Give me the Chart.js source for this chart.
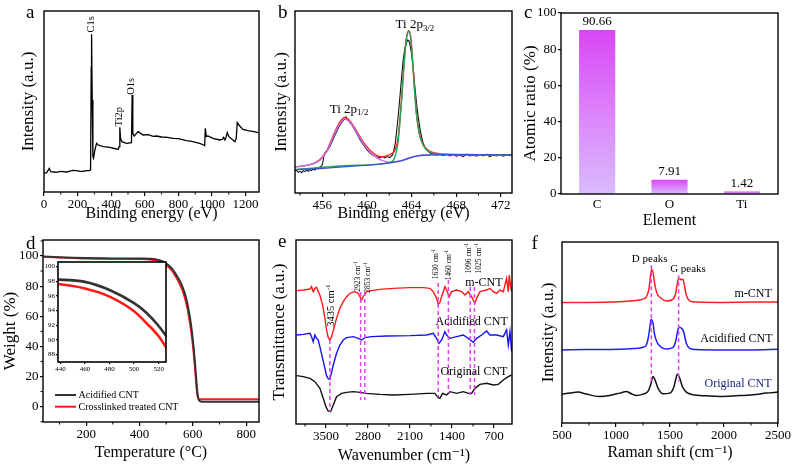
<!DOCTYPE html>
<html>
<head>
<meta charset="utf-8">
<script src="https://cdn.jsdelivr.net/npm/chart.js@4.4.1/dist/chart.umd.min.js"></script>
<style>
html,body{margin:0;padding:0;background:#fff}
body{width:792px;height:465px;position:relative;overflow:hidden}
canvas{position:absolute}
</style>
</head>
<body>
<canvas id="pa" width="268" height="230" style="left:0;top:0"></canvas>
<canvas id="pb" width="252" height="230" style="left:268px;top:0"></canvas>
<canvas id="pc" width="272" height="230" style="left:520px;top:0"></canvas>
<canvas id="pd" width="268" height="235" style="left:0;top:230px"></canvas>
<canvas id="pe" width="252" height="235" style="left:268px;top:230px"></canvas>
<canvas id="pf" width="272" height="235" style="left:520px;top:230px"></canvas>
<canvas id="pi" width="128" height="122" style="left:44px;top:256px"></canvas>
<script>
// ================= DATA =================
// (a) XPS survey spectrum
const aEnergy = [0,15.8,31.7,39.6,60,75.2,95,114.9,134.7,160,170,194,215,233.7,250,269.3,277.2,281.2,283.2,287.1,291.1,295,303,312.9,322.8,352.5,392,431.7,441.6,447.5,451.5,455.4,463.4,491,520.8,524.8,528.7,536.6,550.5,560.4,590,620,650,669.3,700,735,768.3,800,847.5,880,926.7,950.5,956.4,960.4,966.3,976.2,1005.9,1045.5,1061.4,1069.3,1077.2,1085.1,1091.1,1101,1124.8,1136.6,1144.6,1150.5,1160.4,1184.2,1213.9,1250,1275.2];
const aIntensity = [80,82,95,85,84,83,86,85,84,87,89,88,86,86,88,88,90,400,497,300,130,125,150,170,165,160,158,153,152,160,218,185,175,170,172,315,200,192,200,205,195,196,191,192,189,188,185,184,178,176,170,165,163,215,190,192,185,180,182,188,180,190,202,190,180,175,185,232,225,212,208,205,202];
const aPeakNames = ['C1s','Ti2p','O1s'];
const aXTicks = [0,200,400,600,800,1000,1200];

// (b) Ti 2p high-resolution spectrum
const bRawEnergy = [453.55,453.70,453.85,454.00,454.15,454.30,454.45,454.60,454.75,454.90,455.04,455.19,455.34,455.49,455.64,455.79,455.94,456.03,456.15,456.30,456.48,456.69,456.93,457.13,457.34,457.52,457.70,457.88,458.03,458.12,458.24,458.36,458.48,458.63,458.78,458.93,459.13,459.37,459.61,459.82,460.03,460.27,460.51,460.72,460.93,461.16,461.40,461.61,461.82,462.06,462.21,462.30,462.42,462.54,462.66,462.81,462.96,463.10,463.25,463.40,463.55,463.64,463.76,463.85,464.00,464.15,464.30,464.45,464.60,464.75,464.90,465.04,465.16,465.34,465.52,465.70,465.94,466.24,466.54,466.84,467.13,467.43,467.73,468.03,468.33,468.63,468.93,469.22,469.52,469.82,470.12,470.42,470.72,471.01,471.31,471.61,471.91,472.21,472.51,472.81,473.01];
const bRaw = [88,90,84,87,83,89,86,91,87,92,89,94,91,97,95,100,103,110,135,145,150,162,180,195,210,222,232,240,244,250,240,242,232,228,218,210,198,182,170,160,150,142,136,132,130,128,131,127,131,128,133,136,150,170,205,255,310,365,420,455,472,480,478,468,440,395,340,290,250,215,190,172,162,152,146,141,139,135,138,134,138,133,137,132,136,131,138,133,136,132,137,133,138,131,136,133,137,132,136,134,135];
const bEnvEnergy = [453.55,454.30,455.19,455.79,456.39,456.99,457.58,458.03,458.48,459.07,459.67,460.27,460.87,461.31,461.76,462.21,462.51,462.81,463.10,463.31,463.49,463.61,463.76,463.91,464.09,464.27,464.45,464.69,465.04,465.49,466.24,467.13,469.82,473.01];
const bEnvelope = [100,103,110,122,148,195,235,248,238,208,175,150,135,131,133,140,150,190,302,402,472,498,508,493,423,333,258,203,168,150,141,138,137,136];
const bP12Energy = [453.55,454.30,455.19,455.79,456.39,456.99,457.58,458.03,458.48,459.07,459.67,460.27,460.87,461.46,462.06,463.25,464.15,465.04,467.13,469.82,473.01];
const bP12Fit = [100,103,110,120,145,190,230,244,234,204,170,145,128,118,114,121,131,136,137,137,136];
const bP32Energy = [453.55,456.39,459.07,462.06,462.51,462.81,463.10,463.31,463.49,463.61,463.76,463.91,464.09,464.27,464.45,464.69,465.04,465.49,466.24,467.13,469.82,473.01];
const bP32Fit = [92,100,105,113,130,180,295,398,470,496,506,490,420,330,255,200,165,147,139,137,137,136];
const bBgEnergy = [453.55,456.09,459.07,462.06,463.25,464.15,465.04,467.13,469.82,473.01];
const bBackground = [92,96,103,112,120,130,135,137,137,136];
const bXTicks = [456,460,464,468,472];

// (c) atomic ratio
const cElements = ['C','O','Ti'];
const cRatio = [90.66,7.91,1.42];
const cYTicks = [0,20,40,60,80,100];

// (d) TGA
const dTemp = [40,100,150,200,300,400,438,460,480,500,510,520,530,540,550,560,570,580,590,597,603,608,612,616,620,624,630,640,850];
const dAcidified = [99.6,99.1,98.8,98.6,98.4,98.3,98.2,97.9,96.8,95.0,93.7,91.9,89.6,86.8,83.8,80,75,68,58,49,39,29,20,11,6,4,3.4,3.3,3.3];
const dCrosslinked = [99.4,98.9,98.6,98.3,98.1,97.9,97.6,97.0,95.9,93.9,92.3,90.5,87.9,84.8,81.5,77.5,72,64.5,54,45,35,25,16,8.5,5.5,5,4.9,4.9,4.9];
const dSeries = ['Acidified CNT','Crosslinked treated CNT'];
const dXTicks = [200,400,600,800];
const dYTicks = [0,20,40,60,80,100];
const dInsetXTicks = [440,460,480,500,520];
const dInsetYTicks = [88,90,92,94,96,98,100];

// (e) FTIR
const eRedWave = [3991,3880,3768,3741,3713,3685,3657,3629,3602,3557,3518,3491,3463,3435,3407,3368,3324,3268,3213,3157,3102,3018,2963,2935,2907,2879,2824,2740,2601,2379,2101,1879,1768,1712,1657,1629,1601,1584,1546,1518,1490,1446,1407,1323,1240,1184,1129,1073,1018,990,934,823,768,712,656,601,545,490,462,445,423,406];
const eMCNT = [403,405,408,415,400,410,413,400,390,360,320,285,262,255,265,290,320,350,370,385,395,400,395,385,375,385,400,403,407,410,412,412,410,400,380,362,368,380,400,415,405,385,400,405,400,390,400,385,365,380,400,405,410,400,395,405,400,440,400,450,415,400];
const eBlueWave = [3991,3880,3768,3741,3713,3685,3657,3629,3602,3557,3518,3491,3463,3435,3379,3324,3268,3213,3157,3046,2963,2907,2852,2740,2490,2101,1823,1712,1657,1618,1573,1518,1490,1434,1323,1212,1129,1045,990,906,823,768,656,545,490,462,434,406];
const eAcidified = [270,272,275,265,250,270,260,255,235,200,170,148,139,137,180,215,240,255,262,265,260,255,262,265,267,268,270,275,260,245,255,280,270,260,265,270,260,248,260,270,282,270,270,265,285,240,280,220];
const eBlackWave = [3991,3880,3768,3685,3602,3546,3502,3463,3424,3379,3324,3240,3157,3046,2935,2824,2601,2379,2101,1823,1685,1629,1601,1557,1490,1434,1323,1212,1129,1073,1018,934,823,712,629,545,462,406];
const eOriginal = [148,145,140,130,110,80,55,42,40,60,85,95,98,100,98,95,92,90,92,95,95,82,80,95,90,100,95,100,95,95,110,122,125,120,122,135,145,150];
const ePeaks = [3435,2923,2853,1630,1460,1096,1025];
const eSeries = ['m-CNT','Acidified CNT','Original CNT'];
const eXTicks = [3500,2800,2100,1400,700];

// (f) Raman
const fRedShift = [500,725,1034,1157,1250,1281,1306,1318,1330,1343,1358,1380,1420,1466,1528,1552,1565,1577,1590,1605,1620,1633,1651,1682,1744,1960,2269,2500];
const fMCNT = [368,368,370,373,378,385,410,445,467,458,425,395,380,372,378,395,420,438,440,436,438,420,390,373,369,368,369,369];
const fBlueShift = [500,725,1034,1157,1250,1281,1299,1312,1324,1343,1355,1380,1420,1466,1528,1552,1568,1583,1596,1614,1630,1651,1682,1744,1960,2269,2500];
const fAcidified = [225,226,227,229,233,240,262,290,317,305,275,248,233,228,233,250,278,293,292,288,275,245,230,226,225,225,227];
const fBlackShift = [500,571,648,725,849,941,1034,1096,1142,1188,1250,1296,1321,1343,1361,1389,1435,1497,1534,1552,1568,1590,1614,1651,1713,1836,1960,2114,2269,2392,2500];
const fOriginal = [92,95,98,92,85,88,95,100,93,88,92,100,120,145,135,110,93,95,112,135,152,140,115,98,90,87,85,87,90,95,98];
const fPeakShift = [1327,1580];
const fPeakNames = ['D peaks','G peaks'];
const fXTicks = [500,1000,1500,2000,2500];

// ================= HELPERS =================
const SERIF = "'Liberation Serif','DejaVu Serif','Times New Roman',serif";
Chart.defaults.font.family = SERIF;
Chart.defaults.color = '#000';
Chart.defaults.animation = false;
Chart.defaults.plugins.legend.display = false;
Chart.defaults.plugins.tooltip.enabled = false;

function pts(xs, ys) { return xs.map((x, i) => ({x: x, y: ys[i]})); }
function line(xs, ys, color, w, smooth, dash) {
  return {data: pts(xs, ys), borderColor: color, backgroundColor: color, borderWidth: w || 1.2,
    pointRadius: 0, fill: false, tension: 0, borderDash: dash || [],
    cubicInterpolationMode: smooth ? 'monotone' : 'default'};
}
function vline(x, y0, y1) { return line([x, x], [y0, y1], '#e040f0', 1.5, false, [4, 3]); }

function axis(o) {
  const left = o.pos === 'left';
  const cfg = {
    type: o.type || 'linear', position: o.pos, reverse: !!o.reverse,
    border: {display: false},
    grid: {display: !!o.ticks && !o.noMarks, drawOnChartArea: false, drawTicks: !o.noMarks, tickLength: o.tl || 4, color: '#000', lineWidth: 1.2},
    ticks: {display: !!o.ticks, padding: o.tp !== undefined ? o.tp : 1,
      font: {size: o.fs || 13}, color: '#000', maxRotation: 0, autoSkip: false},
    title: {display: !!o.title, text: o.title, color: '#000', font: {size: o.tfs || 16, lineHeight: 1.2},
      padding: left ? {top: o.tpad || 0, bottom: 0} : {top: 0, bottom: o.tpad || 0}},
    afterFit: (sc) => { if (left) sc.width = o.size; else sc.height = o.size; }
  };
  if (o.type !== 'category') {
    cfg.min = o.min; cfg.max = o.max;
    cfg.ticks.callback = (v) => String(v);
    const tv = o.tickVals || [];
    cfg.afterBuildTicks = (sc) => { sc.ticks = tv.map(v => ({value: v})); };
  }
  return cfg;
}

function fontFor(size, s) { return (s ? size * 0.68 : size) + 'px ' + SERIF; }
function rich(ctx, parts, x, y, size, align) {
  const ws = parts.map(p => { ctx.font = fontFor(size, p.s); return ctx.measureText(p.t).width; });
  const tot = ws.reduce((a, b) => a + b, 0);
  let cx = align === 'left' ? x : x - tot / 2;
  ctx.textAlign = 'left'; ctx.textBaseline = 'middle';
  parts.forEach((p, i) => {
    ctx.font = fontFor(size, p.s);
    const dy = p.s === 'sub' ? size * 0.28 : p.s === 'sup' ? -size * 0.32 : 0;
    ctx.fillText(p.t, cx, y + dy);
    cx += ws[i];
  });
}
function drawMinor(ctx, ca, sc, step, major, horiz) {
  const start = Math.ceil(sc.min / step) * step;
  for (let k = 0; ; k++) {
    const v = start + k * step;
    if (v > sc.max + 1e-9) break;
    const r = v / major;
    if (Math.abs(r - Math.round(r)) < 1e-6) continue;
    const p = sc.getPixelForValue(v);
    ctx.beginPath();
    if (horiz) { ctx.moveTo(p, ca.bottom); ctx.lineTo(p, ca.bottom + 2.5); }
    else { ctx.moveTo(ca.left, p); ctx.lineTo(ca.left - 2.5, p); }
    ctx.stroke();
  }
}

// decoration config per canvas (letters, frame, labels; texts anchored in data coordinates)
const DECO = {
  pa: {letter: ['a', 26, 17.5], minorX: [100, 200], texts: [
    {x: 281, y: 527, parts: [{t: aPeakNames[0]}], size: 10.5, rot: true},
    {x: 448, y: 250, parts: [{t: aPeakNames[1]}], size: 10.5, rot: true},
    {x: 519, y: 341, parts: [{t: aPeakNames[2]}], size: 10.5, rot: true}]},
  pb: {letter: ['b', 10, 17.5], minorX: [2, 4], texts: [
    {x: 464.3, y: 525, parts: [{t: 'Ti 2p'}, {t: '3/2', s: 'sub'}], size: 13},
    {x: 458.4, y: 272, parts: [{t: 'Ti 2p'}, {t: '1/2', s: 'sub'}], size: 13}]},
  pc: {letter: ['c', 4, 17.5], bars: true},
  pd: {letter: ['d', 26, 18.5], minorX: [100, 200], minorY: [10, 20], legend: true},
  pi: {bg: true, fw: 1.6},
  pe: {letter: ['e', 10, 17], minorX: [350, 700], texts: [
    {x: 3410, y: 358, parts: [{t: ePeaks[0] + ' cm'}, {t: '-1', s: 'sup'}], size: 10.5, rot: true},
    {x: 2962, y: 445, parts: [{t: ePeaks[1] + ' cm'}, {t: '-1', s: 'sup'}], size: 7.5, rot: true},
    {x: 2797, y: 442, parts: [{t: ePeaks[2] + ' cm'}, {t: '-1', s: 'sup'}], size: 7.5, rot: true},
    {x: 1663, y: 483, parts: [{t: ePeaks[3] + ' cm'}, {t: '-1', s: 'sup'}], size: 7.5, rot: true},
    {x: 1443, y: 480, parts: [{t: ePeaks[4] + ' cm'}, {t: '-1', s: 'sup'}], size: 7.5, rot: true},
    {x: 1121, y: 500, parts: [{t: ePeaks[5] + ' cm'}, {t: '-1', s: 'sup'}], size: 7.5, rot: true},
    {x: 955, y: 500, parts: [{t: ePeaks[6] + ' cm'}, {t: '-1', s: 'sup'}], size: 7.5, rot: true},
    {x: 868, y: 425, parts: [{t: eSeries[0]}], size: 12},
    {x: 1073, y: 310, parts: [{t: eSeries[1]}], size: 12},
    {x: 1035, y: 160, parts: [{t: eSeries[2]}], size: 12}]},
  pf: {letter: ['f', 11.5, 18.5], minorX: [250, 500], texts: [
    {x: 1312, y: 497, parts: [{t: fPeakNames[0]}], size: 11},
    {x: 1667, y: 467, parts: [{t: fPeakNames[1]}], size: 11},
    {x: 2269, y: 395, parts: [{t: eSeries[0]}], size: 12},
    {x: 2115, y: 257, parts: [{t: eSeries[1]}], size: 12},
    {x: 2130, y: 122, parts: [{t: eSeries[2]}], size: 12, color: '#1a237e'}]}
};

const deco = {
  id: 'deco',
  beforeDraw(chart) {
    const o = DECO[chart.canvas.id]; if (!o || !o.bg) return;
    const c = chart.chartArea, ctx = chart.ctx;
    ctx.save(); ctx.fillStyle = '#fff'; ctx.fillRect(c.left, c.top, c.width, c.height); ctx.restore();
  },
  afterDraw(chart) {
    const o = DECO[chart.canvas.id]; if (!o) return;
    const ctx = chart.ctx, ca = chart.chartArea, xs = chart.scales.x, ys = chart.scales.y;
    ctx.save();
    ctx.strokeStyle = '#000'; ctx.fillStyle = '#000';
    ctx.lineWidth = o.fw || 1.4;
    ctx.strokeRect(ca.left, ca.top, ca.width, ca.height);
    ctx.lineWidth = 1;
    if (o.minorX) drawMinor(ctx, ca, xs, o.minorX[0], o.minorX[1], true);
    if (o.minorY) drawMinor(ctx, ca, ys, o.minorY[0], o.minorY[1], false);
    (o.texts || []).forEach(t => {
      const px = xs.getPixelForValue(t.x), py = ys.getPixelForValue(t.y);
      ctx.fillStyle = t.color || '#000';
      if (t.rot) { ctx.save(); ctx.translate(px, py); ctx.rotate(-Math.PI / 2); rich(ctx, t.parts, 0, 0, t.size); ctx.restore(); }
      else rich(ctx, t.parts, px, py, t.size);
    });
    ctx.fillStyle = '#000';
    if (o.bars) {
      const meta = chart.getDatasetMeta(0);
      ctx.font = '13px ' + SERIF; ctx.textAlign = 'center'; ctx.textBaseline = 'bottom';
      meta.data.forEach((el, i) => ctx.fillText(cRatio[i].toFixed(2), el.x, el.y - 1.5));
    }
    if (o.legend) {
      const rows = [[dSeries[0], '#333333', 165], [dSeries[1], '#ff1a1a', 176.7]];
      rows.forEach(r => {
        ctx.strokeStyle = r[1]; ctx.lineWidth = 2;
        ctx.beginPath(); ctx.moveTo(55, r[2]); ctx.lineTo(76, r[2]); ctx.stroke();
        ctx.fillStyle = '#000'; ctx.font = '10px ' + SERIF; ctx.textAlign = 'left'; ctx.textBaseline = 'middle';
        ctx.fillText(r[0], 78.5, r[2] + 0.5);
      });
    }
    if (o.letter) {
      ctx.fillStyle = '#000'; ctx.font = '19px ' + SERIF; ctx.textAlign = 'left'; ctx.textBaseline = 'alphabetic';
      ctx.fillText(o.letter[0], o.letter[1], o.letter[2]);
    }
    ctx.restore();
  }
};
Chart.register(deco);

function base(pad, scales) {
  return {responsive: false, animation: false, layout: {padding: pad}, scales: scales,
    plugins: {legend: {display: false}, tooltip: {enabled: false}}};
}

// ================= CHARTS =================
// (a)
new Chart(document.getElementById('pa'), {
  type: 'line',
  data: {datasets: [line(aEnergy, aIntensity, '#000', 1.3)]},
  options: base({left: 0, top: 11, right: 9, bottom: 0}, {
    x: axis({pos: 'bottom', min: 0, max: 1280, tickVals: aXTicks, ticks: true, size: 38, title: 'Binding energy (eV)', tpad: 7}),
    y: axis({pos: 'left', min: 24, max: 567, size: 44, title: 'Intensity (a.u.)', tfs: 17, tpad: 18.8})
  })
});

// (b)
new Chart(document.getElementById('pb'), {
  type: 'line',
  data: {datasets: [
    line(bBgEnergy, bBackground, '#3b4fd0', 1.3, true),
    line(bP32Energy, bP32Fit, '#1fa65a', 1.4, true),
    line(bP12Energy, bP12Fit, '#c36ee6', 1.4, true),
    line(bEnvEnergy, bEnvelope, '#ff2a2a', 1.4, true),
    line(bRawEnergy, bRaw, '#111', 1.1)
  ]},
  options: base({left: 0, top: 11, right: 8, bottom: 0}, {
    x: axis({pos: 'bottom', min: 453.55, max: 473.01, tickVals: bXTicks, ticks: true, size: 37, title: 'Binding energy (eV)', tpad: 7}),
    y: axis({pos: 'left', min: 22, max: 567, size: 27, title: 'Intensity (a.u.)', tfs: 17, tpad: 3.5})
  })
});

// (c)
new Chart(document.getElementById('pc'), {
  type: 'bar',
  data: {labels: cElements, datasets: [{
    data: cRatio, borderWidth: 0, barPercentage: 0.5, categoryPercentage: 1,
    backgroundColor: (ctx) => {
      const ch = ctx.chart; if (!ch.chartArea) return '#dd66ff';
      const ys = ch.scales.y;
      const t = ys.getPixelForValue(ctx.raw), b = ys.getPixelForValue(0);
      const g = ch.ctx.createLinearGradient(0, t, 0, b + 0.01);
      g.addColorStop(0, '#d746f4'); g.addColorStop(0.45, '#dd7cfb'); g.addColorStop(1, '#d8bcfd');
      return g;
    }
  }]},
  options: base({left: 0, top: 13, right: 14, bottom: 0}, {
    x: axis({type: 'category', pos: 'bottom', ticks: true, noMarks: true, size: 36, title: 'Element', tpad: 0, tp: 3}),
    y: axis({pos: 'left', min: 0, max: 100, tickVals: cYTicks, ticks: true, size: 41, title: 'Atomic ratio (%)', tfs: 17, tpad: 0.5, tl: 3, tp: 1.5})
  })
});

// (d)
new Chart(document.getElementById('pd'), {
  type: 'line',
  data: {datasets: [
    line(dTemp, dAcidified, '#333333', 2, true),
    line(dTemp, dCrosslinked, '#ff1a1a', 1.8, true)
  ]},
  options: base({left: 0, top: 10, right: 9, bottom: 0}, {
    x: axis({pos: 'bottom', min: 38, max: 848, tickVals: dXTicks, ticks: true, size: 43, title: 'Temperature (\u00B0C)', tpad: 2.7}),
    y: axis({pos: 'left', min: -10.2, max: 110.6, tickVals: dYTicks, ticks: true, size: 43, title: 'Weight (%)', tfs: 17, tpad: 0, tl: 3, tp: 1.5})
  })
});
// (d) inset
new Chart(document.getElementById('pi'), {
  type: 'line',
  data: {datasets: [
    line(dTemp, dAcidified, '#333333', 2.6, true),
    line(dTemp, dCrosslinked, '#ff1a1a', 2.6, true)
  ]},
  options: base({left: 0, top: 6, right: 6, bottom: 0}, {
    x: axis({pos: 'bottom', min: 438, max: 526, tickVals: dInsetXTicks, ticks: true, size: 16, fs: 7, tl: 2, tp: 1}),
    y: axis({pos: 'left', min: 87, max: 100.6, tickVals: dInsetYTicks, ticks: true, size: 14, fs: 7, tl: 2, tp: 1})
  })
});

// (e)
new Chart(document.getElementById('pe'), {
  type: 'line',
  data: {datasets: [
    vline(ePeaks[0], 255, 39), vline(ePeaks[1], 399, 75), vline(ePeaks[2], 399, 75),
    vline(ePeaks[3], 426, 84), vline(ePeaks[4], 435, 96), vline(ePeaks[5], 414, 90), vline(ePeaks[6], 414, 90),
    line(eRedWave, eMCNT, '#ff1a1a', 1.4),
    line(eBlueWave, eAcidified, '#1414f0', 1.4),
    line(eBlackWave, eOriginal, '#111', 1.4, false)
  ]},
  options: base({left: 0, top: 10, right: 8, bottom: 0}, {
    x: axis({pos: 'bottom', min: 400, max: 4000, tickVals: eXTicks, reverse: true, ticks: true, size: 41, title: 'Wavenumber (cm\u207B\u00B9)', tpad: 0}),
    y: axis({pos: 'left', min: 3, max: 555, size: 28, title: 'Transmittance (a.u.)', tfs: 17, tpad: 1.8})
  })
});

// (f)
new Chart(document.getElementById('pf'), {
  type: 'line',
  data: {datasets: [
    vline(fPeakShift[0], 480, 125), vline(fPeakShift[1], 450, 130),
    line(fRedShift, fMCNT, '#ff2020', 1.5, true),
    line(fBlueShift, fAcidified, '#1f1ff5', 1.5, true),
    line(fBlackShift, fOriginal, '#111', 1.5, true)
  ]},
  options: base({left: 0, top: 12, right: 14, bottom: 0}, {
    x: axis({pos: 'bottom', min: 500, max: 2500, tickVals: fXTicks, ticks: true, size: 42, title: 'Raman shift (cm\u207B\u00B9)', tpad: 2.7}),
    y: axis({pos: 'left', min: 5, max: 550, size: 42, title: 'Intensity (a.u.)', tfs: 17, tpad: 18.1})
  })
});
</script>
</body>
</html>
